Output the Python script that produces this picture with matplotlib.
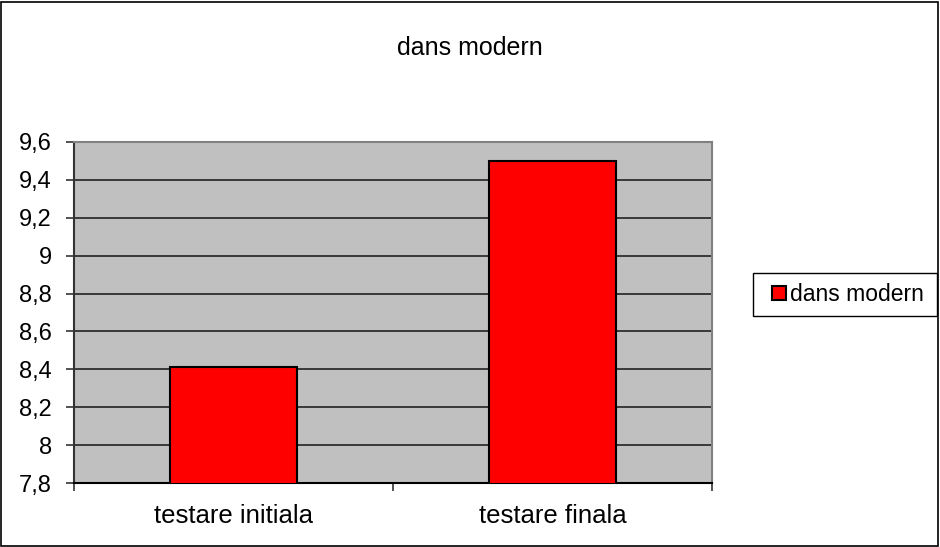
import matplotlib.pyplot as plt
from matplotlib.patches import Rectangle

categories = ['testare initiala', 'testare finala']
values = [8.41, 9.5]
series_name = 'dans modern'
yticks = [7.8, 8.0, 8.2, 8.4, 8.6, 8.8, 9.0, 9.2, 9.4, 9.6]

plt.rcParams['font.family'] = ['Liberation Sans', 'DejaVu Sans']

fig = plt.figure(figsize=(9.4, 5.47), dpi=100)
fig.patches.append(Rectangle((0.001, 0.001), 0.997, 0.996, transform=fig.transFigure,
                             fill=False, edgecolor='black', linewidth=1.2))
ax = fig.add_axes([0.0787, 0.117, 0.6787, 0.6235])
ax.set_facecolor('#C0C0C0')

x = list(range(len(categories)))
ax.bar(x, values, width=0.4, color='#FF0000', edgecolor='black', linewidth=1.5,
       label=series_name, zorder=3)

ax.set_xlim(-0.5, len(categories) - 0.5)
ax.set_ylim(7.8, 9.6)
ax.set_yticks(yticks)
ax.set_yticklabels([('%g' % t).replace('.', ',') for t in yticks], fontsize=17)
for t in yticks[1:-1]:
    ax.axhline(t, color='#222222', linewidth=1.2, zorder=1)

ax.set_xticks([-0.5, 0.5, 1.5])
ax.set_xticklabels([])
ax.set_xticks(x, minor=True)
ax.set_xticklabels(categories, minor=True, fontsize=18.5)
ax.tick_params(axis='x', which='minor', length=0, pad=15)
ax.tick_params(axis='x', which='major', length=6, width=1.2, color='#333333')
ax.tick_params(axis='y', length=6, width=1.2, color='#333333', pad=10)

ax.spines['top'].set_color('#808080')
ax.spines['right'].set_color('#808080')
ax.spines['left'].set_color('#333333')
ax.spines['bottom'].set_color('black')
for s in ax.spines.values():
    s.set_linewidth(1.5)

fig.text(0.5, 0.912, 'dans modern', ha='center', va='center', fontsize=18)

# legend box drawn by hand, legend itself without frame
fig.patches.append(Rectangle((753 / 940, 1 - 316 / 547), 184 / 940, 43 / 547,
                             transform=fig.transFigure, facecolor='white',
                             edgecolor='black', linewidth=1.0))
fig.legend(loc='center left', bbox_to_anchor=(0.8213, 0.4616), fontsize=16.5,
           frameon=False, handlelength=0.6, handleheight=0.6,
           handletextpad=0.2, borderpad=0.0, borderaxespad=0.0)

fig.savefig('out.png', dpi=100)
